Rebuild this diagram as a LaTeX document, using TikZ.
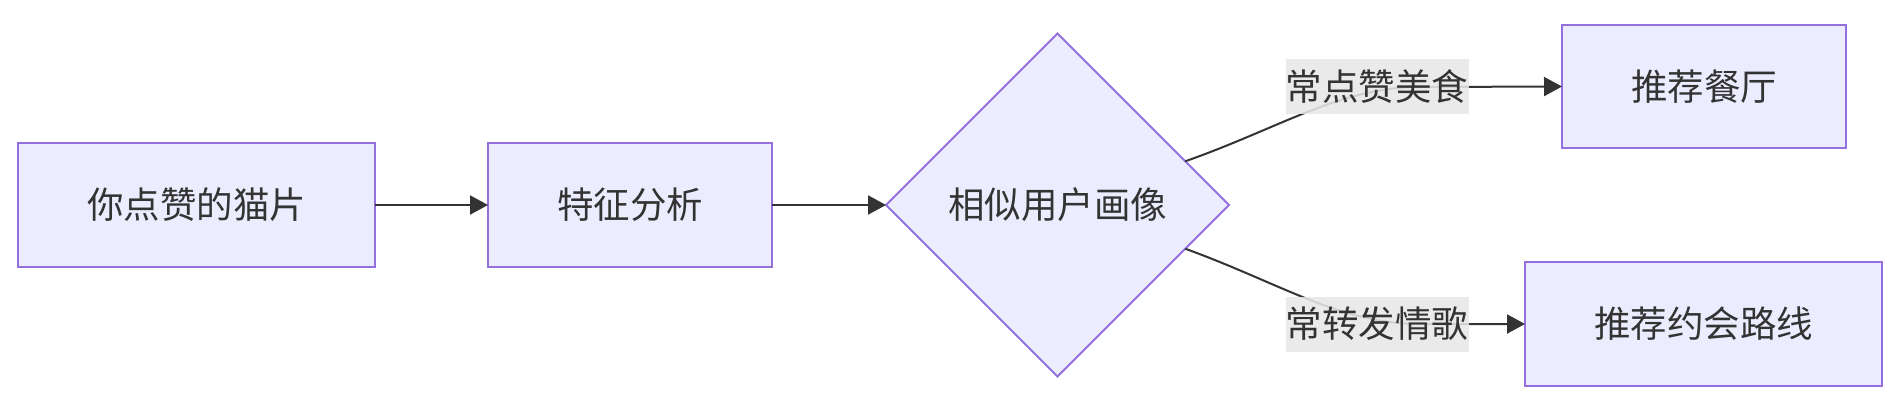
\documentclass[tikz,border=0pt]{standalone}
\usepackage{fontspec}
\setmainfont{Noto Sans CJK SC}
\usetikzlibrary{shapes.geometric,arrows.meta,calc}
\definecolor{boxfill}{HTML}{ECECFF}
\definecolor{boxline}{HTML}{9370DB}
\definecolor{ink}{HTML}{333333}
\definecolor{lblbg}{HTML}{E8E8E8}
\begin{document}
\begin{tikzpicture}[x=1pt,y=-1pt,
  every node/.style={font=\fontsize{36.5}{40}\selectfont, text=ink},
  procbox/.style={draw=boxline, fill=boxfill, line width=2pt, rectangle, inner sep=0pt, outer sep=0pt},
  decide/.style={draw=boxline, fill=boxfill, line width=2pt, diamond, aspect=1, inner sep=0pt, outer sep=0pt, minimum width=343pt, minimum height=343pt},
  edgelbl/.style={fill=lblbg, fill opacity=0.87, text opacity=1, inner sep=0pt, minimum width=183pt, minimum height=55pt},
  conn/.style={draw=ink, line width=2pt, -{Triangle[length=18pt,width=19pt]}}
]
\useasboundingbox (0,0) rectangle (1902,407);
\fill[white] (0,0) rectangle (1902,407);

\node[procbox, minimum width=357pt, minimum height=124pt] (b1) at (196.5,205) {你点赞的猫片};
\node[procbox, minimum width=284pt, minimum height=124pt] (b2) at (630,205) {特征分析};
\node[decide] (dia) at (1057.5,205) {相似用户画像};
\node[procbox, minimum width=284pt, minimum height=123pt] (b3) at (1704,86.5) {推荐餐厅};
\node[procbox, minimum width=357pt, minimum height=124pt] (b4) at (1703.5,324) {推荐约会路线};

\draw[conn] (b1.east) -- (b2.west);
\draw[conn] (b2.east) -- (dia.west);

\coordinate (u0) at ($(dia.north)!0.745!(dia.east)$);
\coordinate (u1) at (1280,128);
\coordinate (u2) at (1340,87);
\coordinate (u3) at (1420,87);
\coordinate (l0) at ($(dia.south)!0.745!(dia.east)$);
\coordinate (l1) at (1280,283);
\coordinate (l2) at (1340,324);
\coordinate (l3) at (1420,324);

\draw[conn] (u0) .. controls (u1) and (u2) .. (u3) -- (b3.west);
\draw[conn] (l0) .. controls (l1) and (l2) .. (l3) -- (b4.west);

\node[edgelbl] (e1) at (1377,86.5) {常点赞美食};
\node[edgelbl] (e2) at (1377,324) {常转发情歌};
\end{tikzpicture}
\end{document}
